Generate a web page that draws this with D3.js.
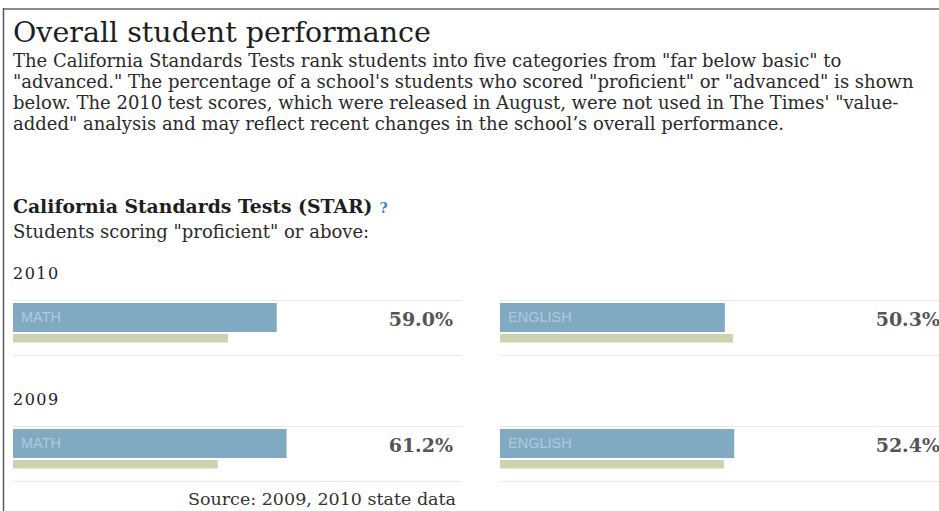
<!DOCTYPE html>
<html>
<head>
<meta charset="utf-8">
<script src="https://cdn.jsdelivr.net/npm/d3@7"></script>
<style>
  html, body { margin: 0; padding: 0; background: #fff; overflow: hidden; }
  svg { display: block; }
  .serif { font-family: "DejaVu Serif", "Liberation Serif", serif; }
</style>
</head>
<body>
<div id="chart"></div>
<script>
// Overall student performance - CST "proficient or above" bars

const width = 939;
const height = 511;

// data
const years = ['2010', '2009'];
const subjects = ['MATH', 'ENGLISH'];
const mathSchool = [59.0, 61.2];
const englishSchool = [50.3, 52.4];
const mathCompare = [48.1, 45.8];     // green reference bars
const englishCompare = [52.1, 50.1];

const introLines = [
    'The California Standards Tests rank students into five categories from "far below basic" to',
    '"advanced." The percentage of a school\'s students who scored "proficient" or "advanced" is shown',
    'below. The 2010 test scores, which were released in August, were not used in The Times\' "value-',
    'added" analysis and may reflect recent changes in the school\u2019s overall performance.'
];

// layout
const colX = [13, 500];
const colWidth = 449;
const blockTop = [300, 426];   // top divider of each year block
const blueColor = '#80aac2';
const greenColor = '#c9d5b1';

const svg = d3.select('#chart')
    .append('svg')
    .attr('width', width)
    .attr('height', height);

// frame
svg.append('line')
    .attr('x1', 3).attr('x2', width)
    .attr('y1', 9).attr('y2', 9)
    .attr('stroke', '#8c8c8c').attr('stroke-width', 2);
svg.append('line')
    .attr('x1', 3.5).attr('x2', 3.5)
    .attr('y1', 8).attr('y2', height)
    .attr('stroke', '#5a5a5a').attr('stroke-width', 1.5);

// title + intro
svg.append('text')
    .attr('class', 'serif')
    .attr('x', 13).attr('y', 42)
    .attr('font-size', 28.5)
    .attr('fill', '#1e1e1e')
    .text('Overall student performance');

svg.append('g')
    .selectAll('text')
    .data(introLines)
    .enter()
    .append('text')
    .attr('class', 'serif')
    .attr('x', 13)
    .attr('y', (d, i) => 67 + i * 21)
    .attr('font-size', 18)
    .attr('fill', '#2a2a2a')
    .text(d => d);

// section heading
const head = svg.append('text')
    .attr('class', 'serif')
    .attr('x', 13).attr('y', 213)
    .attr('font-size', 18.8)
    .attr('font-weight', 'bold')
    .attr('fill', '#1e1e1e');
head.append('tspan').text('California Standards Tests (STAR)');
head.append('tspan')
    .attr('dx', 7)
    .attr('font-size', 14)
    .attr('fill', '#3a86b8')
    .text('?');

svg.append('text')
    .attr('class', 'serif')
    .attr('x', 13).attr('y', 238)
    .attr('font-size', 18)
    .attr('fill', '#2a2a2a')
    .text('Students scoring "proficient" or above:');

// bars
const x = d3.scaleLinear().domain([0, 100]).range([0, 447]);

const rows = [];
years.forEach((yr, i) => {
    rows.push({ year: yr, yi: i, ci: 0, subject: subjects[0], school: mathSchool[i], compare: mathCompare[i] });
    rows.push({ year: yr, yi: i, ci: 1, subject: subjects[1], school: englishSchool[i], compare: englishCompare[i] });
});

// year labels
svg.append('g')
    .selectAll('text')
    .data(years)
    .enter()
    .append('text')
    .attr('class', 'serif')
    .attr('x', 13)
    .attr('y', (d, i) => blockTop[i] - 21)
    .attr('font-size', 16)
    .attr('letter-spacing', 1.5)
    .attr('fill', '#222')
    .text(d => d);

const cell = svg.append('g')
    .selectAll('g')
    .data(rows)
    .enter()
    .append('g')
    .attr('transform', d => `translate(${colX[d.ci]},${blockTop[d.yi]})`);

// dividers
cell.append('line')
    .attr('x1', 0).attr('x2', colWidth)
    .attr('y1', 0.5).attr('y2', 0.5)
    .attr('stroke', '#e8e8e8');
cell.append('line')
    .attr('x1', 0).attr('x2', colWidth)
    .attr('y1', 55.5).attr('y2', 55.5)
    .attr('stroke', '#e8e8e8');

cell.append('rect')
    .attr('x', 0).attr('y', 3)
    .attr('width', d => x(d.school))
    .attr('height', 29)
    .attr('fill', blueColor);

cell.append('rect')
    .attr('x', 0).attr('y', 34)
    .attr('width', d => x(d.compare))
    .attr('height', 8.5)
    .attr('fill', greenColor);

cell.append('text')
    .attr('x', 8).attr('y', 22)
    .attr('font-family', '"Liberation Sans", Arial, sans-serif')
    .attr('font-size', 14.5)
    .attr('fill', '#aecbdd')
    .text(d => d.subject);

cell.append('text')
    .attr('class', 'serif')
    .attr('x', 440).attr('y', 26)
    .attr('text-anchor', 'end')
    .attr('font-size', 19)
    .attr('font-weight', 'bold')
    .attr('fill', '#555')
    .text(d => d.school.toFixed(1) + '%');

// source note, sits right at the bottom edge
svg.append('text')
    .attr('class', 'serif')
    .attr('x', 456).attr('y', 505)
    .attr('text-anchor', 'end')
    .attr('font-size', 17.5)
    .attr('fill', '#333')
    .text('Source: 2009, 2010 state data');
</script>
</body>
</html>
